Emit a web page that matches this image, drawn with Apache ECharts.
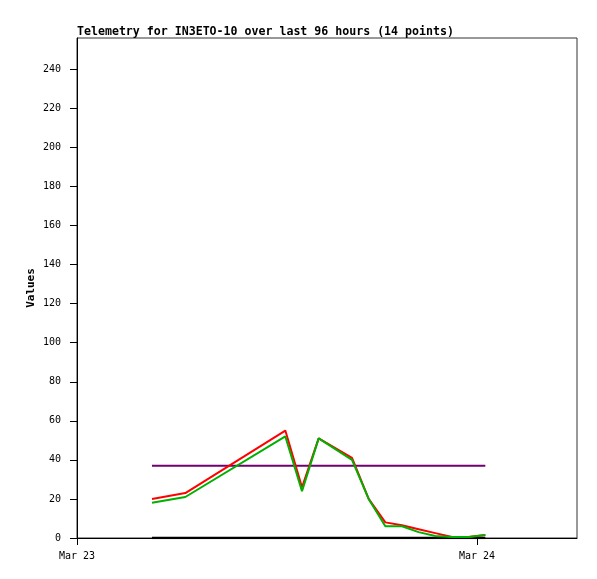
<!DOCTYPE html>
<html>
<head>
<meta charset="utf-8">
<script src="https://cdn.jsdelivr.net/npm/echarts@6/dist/echarts.min.js"></script>
<style>
html,body{margin:0;padding:0;background:#fff;}
#chart{width:597px;height:579px;}
</style>
</head>
<body>
<div id="chart"></div>
<script>
// hours since Mar 23 00:00
var hours = [4.5, 6.5, 12.5, 13.5, 14.5, 16.5, 17.5, 18.5, 19.5, 20.5, 21.5, 22.5, 23.5, 24.5];
var redValues = [20, 23, 55, 26, 51, 41, 20, 8, 6.5, 4.5, 2.5, 0.5, 0.5, 1.5];
var greenValues = [18, 21, 52, 24, 51, 40, 20, 6, 6, 3, 1, 0.5, 0.5, 1.5];
var purpleValues = [37, 37, 37, 37, 37, 37, 37, 37, 37, 37, 37, 37, 37, 37];
var blackValues = [0, 0, 0, 0, 0, 0, 0, 0, 0, 0, 0, 0, 0, 0];
var xTickValues = [0, 24];
var xTickLabels = {0: 'Mar 23', 24: 'Mar 24'};
var yTickValues = [0, 20, 40, 60, 80, 100, 120, 140, 160, 180, 200, 220, 240];
var titleText = 'Telemetry for IN3ETO-10 over last 96 hours (14 points)';

function pairs(vals) {
  return hours.map(function (h, i) { return [h, vals[i]]; });
}

var mono = '"DejaVu Sans Mono", "Liberation Mono", monospace';
var chart = echarts.init(document.getElementById('chart'));
chart.setOption({
  animation: false,
  backgroundColor: '#ffffff',
  title: {
    text: titleText,
    left: 77, top: 26,
    padding: 0,
    textStyle: {fontFamily: mono, fontSize: 11.6, fontWeight: 'bold', color: '#000'}
  },
  grid: {
    left: 77, right: 20, top: 38, bottom: 41,
    show: true, borderColor: '#333', borderWidth: 1, backgroundColor: 'transparent'
  },
  xAxis: {
    type: 'value', min: 0, max: 30,
    splitLine: {show: false},
    axisLine: {lineStyle: {color: '#000', width: 1}},
    axisTick: {show: true, length: 7, inside: false, customValues: xTickValues, lineStyle: {color: '#000'}},
    axisLabel: {
      customValues: xTickValues,
      margin: 13,
      fontFamily: mono, fontSize: 10, color: '#000',
      formatter: function (v) { return xTickLabels[v] || ''; }
    }
  },
  yAxis: {
    type: 'value', min: 0, max: 256,
    name: 'Values', nameLocation: 'middle', nameGap: 40, nameMoveOverlap: false,
    nameTextStyle: {fontFamily: mono, fontSize: 11, fontWeight: 'bold', color: '#000'},
    splitLine: {show: false},
    axisLine: {show: true, lineStyle: {color: '#000', width: 1}},
    axisTick: {show: true, length: 7, customValues: yTickValues, lineStyle: {color: '#000'}},
    axisLabel: {
      customValues: yTickValues,
      margin: 16,
      fontFamily: mono, fontSize: 10, color: '#000'
    }
  },
  series: [
    {type: 'line', data: pairs(blackValues), symbol: 'none', lineStyle: {color: '#000000', width: 2.5}, z: 1},
    {type: 'line', data: pairs(purpleValues), symbol: 'none', lineStyle: {color: '#700070', width: 2}, z: 2},
    {type: 'line', data: pairs(redValues), symbol: 'none', lineStyle: {color: '#ff0000', width: 2}, z: 3},
    {type: 'line', data: pairs(greenValues), symbol: 'none', lineStyle: {color: '#00b000', width: 2}, z: 4}
  ]
});
</script>
</body>
</html>
